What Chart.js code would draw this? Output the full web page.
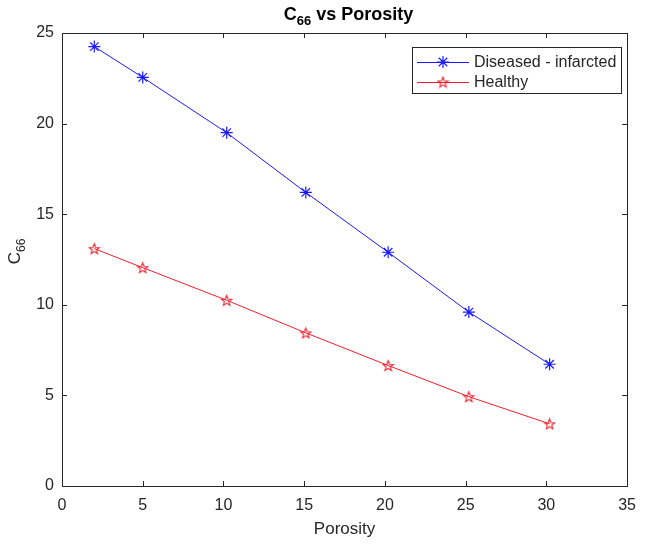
<!DOCTYPE html>
<html>
<head>
<meta charset="utf-8">
<script src="https://cdn.jsdelivr.net/npm/chart.js@4"></script>
<style>
  html, body { margin: 0; padding: 0; background: #fff; }
  #wrap { width: 646px; height: 544px; }
</style>
</head>
<body>
<div id="wrap"><canvas id="c66Chart"></canvas></div>
<script>
// data
const porosityDiseased = [2, 5, 10.2, 15.1, 20.2, 25.2, 30.2];
const c66Diseased = [24.25, 22.55, 19.5, 16.2, 12.9, 9.6, 6.72];
const porosityHealthy = [2, 5, 10.2, 15.1, 20.2, 25.2, 30.2];
const c66Healthy = [13.1, 12.05, 10.25, 8.45, 6.65, 4.93, 3.43];
const seriesLabels = ['Diseased - infarcted', 'Healthy'];
const xTicks = [0, 5, 10, 15, 20, 25, 30, 35];
const yTicks = [0, 5, 10, 15, 20, 25];

const FONT = '"Liberation Sans", Arial, sans-serif';
const AXIS_COLOR = '#262626';
const BLUE = '#1a1aff';
const RED = '#f01e2c';

// hollow pentagram marker (matlab 'p')
const makePentagram = (size, color) => {
    const cv = document.createElement('canvas');
    cv.width = size;
    cv.height = size;
    const g = cv.getContext('2d');
    const cx = size / 2, cy = size / 2 + 0.6;
    const rOut = size / 2 - 1, rIn = rOut * 0.42;
    g.beginPath();
    for (let i = 0; i < 10; i++) {
        const r = i % 2 === 0 ? rOut : rIn;
        const a = -Math.PI / 2 + i * Math.PI / 5;
        const px = cx + r * Math.cos(a), py = cy + r * Math.sin(a);
        if (i === 0) g.moveTo(px, py); else g.lineTo(px, py);
    }
    g.closePath();
    g.strokeStyle = color;
    g.lineWidth = 1.1;
    g.stroke();
    return cv;
};
const pentagram = makePentagram(13, RED);

const toPoints = (xs, ys) => xs.map((x, i) => ({ x: x, y: ys[i] }));

// draws "C" + subscript "66" + rest
const drawSubText = (ctx, base, sub, rest, size, bold) => {
    const w = bold ? 'bold ' : '';
    const subSize = Math.round(size * 0.72);
    ctx.font = `${w}${size}px ${FONT}`;
    const w1 = ctx.measureText(base).width;
    const w3 = ctx.measureText(rest).width;
    ctx.font = `${w}${subSize}px ${FONT}`;
    const w2 = ctx.measureText(sub).width;
    const total = w1 + w2 + w3;
    let x = -total / 2;
    ctx.textAlign = 'left';
    ctx.textBaseline = 'alphabetic';
    ctx.font = `${w}${size}px ${FONT}`;
    ctx.fillText(base, x, 0);
    x += w1;
    ctx.font = `${w}${subSize}px ${FONT}`;
    ctx.fillText(sub, x, size * 0.3);
    x += w2;
    ctx.font = `${w}${size}px ${FONT}`;
    ctx.fillText(rest, x, 0);
};

const matlabFrame = {
    id: 'matlabFrame',
    afterDraw(chart) {
        const { ctx, chartArea: a, scales } = chart;
        ctx.save();
        ctx.strokeStyle = AXIS_COLOR;
        ctx.lineWidth = 1;
        // box
        ctx.strokeRect(Math.round(a.left) + 0.5, Math.round(a.top) + 0.5,
            Math.round(a.right - a.left), Math.round(a.bottom - a.top));
        // inward ticks on all four sides
        const tl = 5;
        ctx.beginPath();
        xTicks.forEach(v => {
            const px = Math.round(scales.x.getPixelForValue(v)) + 0.5;
            ctx.moveTo(px, a.bottom); ctx.lineTo(px, a.bottom - tl);
            ctx.moveTo(px, a.top); ctx.lineTo(px, a.top + tl);
        });
        yTicks.forEach(v => {
            const py = Math.round(scales.y.getPixelForValue(v)) + 0.5;
            ctx.moveTo(a.left, py); ctx.lineTo(a.left + tl, py);
            ctx.moveTo(a.right, py); ctx.lineTo(a.right - tl, py);
        });
        ctx.stroke();

        // title
        ctx.fillStyle = '#000';
        ctx.save();
        ctx.translate((a.left + a.right) / 2 + 4, 20);
        drawSubText(ctx, 'C', '66', ' vs Porosity', 18, true);
        ctx.restore();

        // axis titles
        ctx.fillStyle = AXIS_COLOR;
        ctx.font = `17px ${FONT}`;
        ctx.textAlign = 'center';
        ctx.textBaseline = 'alphabetic';
        ctx.fillText('Porosity', (a.left + a.right) / 2, 534);
        ctx.save();
        ctx.translate(20, (a.top + a.bottom) / 2 - 8);
        ctx.rotate(-Math.PI / 2);
        drawSubText(ctx, 'C', '66', '', 17, false);
        ctx.restore();

        // legend
        const lx = 412, ly = 47, lw = 209, lh = 46;
        ctx.fillStyle = '#fff';
        ctx.fillRect(lx, ly, lw, lh);
        ctx.strokeStyle = AXIS_COLOR;
        ctx.strokeRect(lx + 0.5, ly + 0.5, lw, lh);
        chart.data.datasets.forEach((ds, i) => {
            const yy = ly + 15 + i * 20;
            ctx.strokeStyle = ds.borderColor;
            ctx.lineWidth = 1;
            ctx.beginPath();
            ctx.moveTo(lx + 5, yy + 0.5);
            ctx.lineTo(lx + 57, yy + 0.5);
            ctx.stroke();
            ctx.fillStyle = ds.pointBackgroundColor;
            ctx.strokeStyle = ds.pointBorderColor;
            ctx.lineWidth = ds.pointBorderWidth;
            Chart.helpers.drawPoint(ctx, { pointStyle: ds.pointStyle, radius: ds.pointRadius, rotation: 0, borderWidth: ds.pointBorderWidth }, lx + 31, yy);
            ctx.fillStyle = AXIS_COLOR;
            ctx.font = `16px ${FONT}`;
            ctx.textAlign = 'left';
            ctx.textBaseline = 'middle';
            ctx.fillText(ds.label, lx + 62, yy + 1);
        });
        ctx.restore();
    }
};

new Chart(document.getElementById('c66Chart'), {
    type: 'line',
    data: {
        datasets: [
            {
                label: seriesLabels[0],
                data: toPoints(porosityDiseased, c66Diseased),
                borderColor: BLUE,
                borderWidth: 1,
                pointStyle: 'star',
                pointRadius: 6,
                pointBorderColor: BLUE,
                pointBackgroundColor: BLUE,
                pointBorderWidth: 1.2,
                tension: 0
            },
            {
                label: seriesLabels[1],
                data: toPoints(porosityHealthy, c66Healthy),
                borderColor: RED,
                borderWidth: 1,
                pointStyle: pentagram,
                pointRadius: 6,
                pointBorderColor: RED,
                pointBackgroundColor: RED,
                pointBorderWidth: 1,
                tension: 0
            }
        ]
    },
    options: {
        responsive: true,
        maintainAspectRatio: false,
        animation: false,
        events: [],
        layout: { padding: { top: 33, right: 12, left: 0, bottom: 0 } },
        plugins: {
            legend: { display: false },
            title: { display: false },
            tooltip: { enabled: false }
        },
        scales: {
            x: {
                type: 'linear',
                min: 0,
                max: 35,
                afterFit: (s) => { s.height = 58; },
                afterBuildTicks: (s) => { s.ticks = xTicks.map(v => ({ value: v })); },
                grid: { display: false, drawTicks: false },
                border: { display: false },
                ticks: { color: AXIS_COLOR, font: { family: FONT, size: 16 }, padding: 10, maxRotation: 0 }
            },
            y: {
                type: 'linear',
                min: 0,
                max: 25,
                afterFit: (s) => { s.width = 62; },
                afterBuildTicks: (s) => { s.ticks = yTicks.map(v => ({ value: v })); },
                grid: { display: false, drawTicks: false },
                border: { display: false },
                ticks: { color: AXIS_COLOR, font: { family: FONT, size: 16 }, padding: 8 }
            }
        }
    },
    plugins: [matlabFrame]
});
</script>
</body>
</html>
